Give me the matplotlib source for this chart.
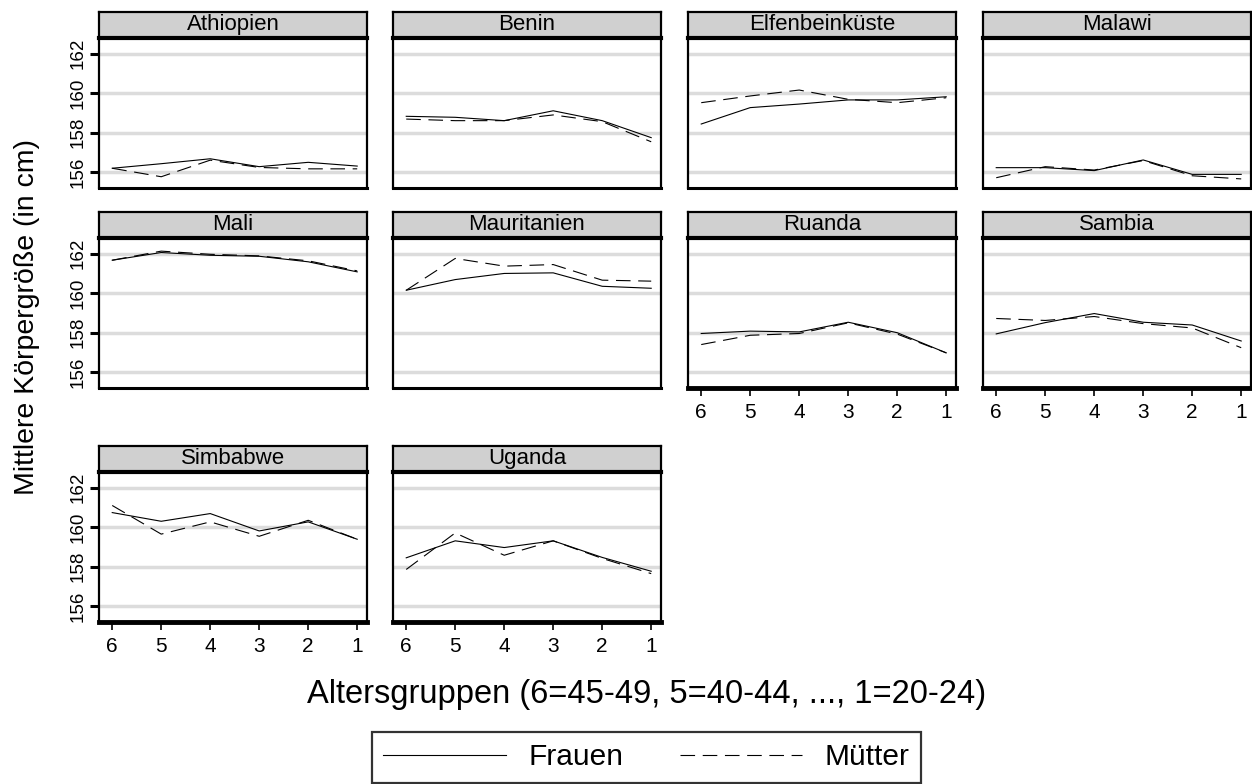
import matplotlib
matplotlib.use("Agg")
import matplotlib.pyplot as plt

plt.rcParams['font.family'] = ['Liberation Sans', 'DejaVu Sans']
plt.rcParams['lines.scale_dashes'] = False

# ---------------- data ----------------
age_groups = [6, 5, 4, 3, 2, 1]
countries = ["Athiopien", "Benin", "Elfenbeinküste", "Malawi", "Mali",
             "Mauritanien", "Ruanda", "Sambia", "Simbabwe", "Uganda"]

frauen_athiopien = [156.19, 156.42, 156.67, 156.27, 156.49, 156.30]
muetter_athiopien = [156.19, 155.76, 156.60, 156.23, 156.16, 156.16]
frauen_benin = [158.82, 158.77, 158.60, 159.10, 158.60, 157.74]
muetter_benin = [158.68, 158.60, 158.60, 158.89, 158.55, 157.53]
frauen_elfenbein = [158.43, 159.26, 159.44, 159.65, 159.65, 159.81]
muetter_elfenbein = [159.51, 159.85, 160.15, 159.68, 159.51, 159.76]
frauen_malawi = [156.22, 156.22, 156.07, 156.61, 155.88, 155.88]
muetter_malawi = [155.71, 156.27, 156.10, 156.58, 155.81, 155.65]
frauen_mali = [161.66, 162.05, 161.91, 161.86, 161.58, 161.07]
muetter_mali = [161.66, 162.12, 161.96, 161.88, 161.63, 161.12]
frauen_mauritanien = [160.14, 160.68, 160.99, 161.02, 160.34, 160.24]
muetter_mauritanien = [160.14, 161.75, 161.36, 161.44, 160.65, 160.60]
frauen_ruanda = [157.95, 158.07, 158.03, 158.52, 157.99, 156.97]
muetter_ruanda = [157.39, 157.86, 157.95, 158.49, 157.92, 156.97]
frauen_sambia = [157.93, 158.50, 158.96, 158.52, 158.38, 157.57]
muetter_sambia = [158.71, 158.61, 158.81, 158.45, 158.23, 157.23]
frauen_simbabwe = [160.73, 160.29, 160.68, 159.80, 160.26, 159.38]
muetter_simbabwe = [161.09, 159.64, 160.26, 159.53, 160.34, 159.38]
frauen_uganda = [158.44, 159.30, 158.96, 159.30, 158.46, 157.76]
muetter_uganda = [157.85, 159.70, 158.57, 159.30, 158.41, 157.64]

frauen_all = [frauen_athiopien, frauen_benin, frauen_elfenbein, frauen_malawi,
              frauen_mali, frauen_mauritanien, frauen_ruanda, frauen_sambia,
              frauen_simbabwe, frauen_uganda]
muetter_all = [muetter_athiopien, muetter_benin, muetter_elfenbein, muetter_malawi,
               muetter_mali, muetter_mauritanien, muetter_ruanda, muetter_sambia,
               muetter_simbabwe, muetter_uganda]

y_ticks = [156, 158, 160, 162]
x_tick_panels = ["Ruanda", "Sambia", "Simbabwe", "Uganda"]
series_labels = ["Frauen", "Mütter"]
x_label = "Altersgruppen (6=45-49, 5=40-44, ..., 1=20-24)"
y_label = "Mittlere Körpergröße (in cm)"

# ---------------- layout ----------------
W, H = 1252, 784
fig = plt.figure(figsize=(W / 100, H / 100), dpi=100)

col_left = [99, 393, 688, 983]
col_w = 268
plot_bottom = [188, 388, 622]
plot_h = 150
head_h = 26


def add_ax(x0, y0, x1, y1):
    return fig.add_axes([x0 / W, 1 - y1 / H, (x1 - x0) / W, (y1 - y0) / H])


handles = None
for i, name in enumerate(countries):
    r, c = divmod(i, 4)
    x0 = col_left[c]
    x1 = x0 + col_w
    yb = plot_bottom[r]
    yt = yb - plot_h
    # header strip
    hax = add_ax(x0, yt - head_h, x1, yt)
    hax.set_facecolor('#d0d0d0')
    hax.set_xticks([])
    hax.set_yticks([])
    for s in hax.spines.values():
        s.set_linewidth(1.6)
        s.set_color('black')
    hax.text(0.5, 0.52, name, ha='center', va='center', fontsize=16,
             transform=hax.transAxes)

    ax = add_ax(x0, yt, x1, yb)
    ax.set_xlim(6.27, 0.8)
    ax.set_ylim(155.19, 162.785)
    ax.set_yticks(y_ticks)
    ax.set_xticks(age_groups)
    ax.grid(axis='y', color='#dcdcdc', linewidth=2.5)
    ax.set_axisbelow(True)
    for s in ax.spines.values():
        s.set_linewidth(1.6)
        s.set_color('black')
    ax.spines['top'].set_linewidth(3.0)

    l1, = ax.plot(age_groups, frauen_all[i], color='black', linewidth=0.8,
                  label=series_labels[0])
    l2, = ax.plot(age_groups, muetter_all[i], color='black', linewidth=0.8,
                  dashes=(10.5, 5.5), label=series_labels[1])
    if handles is None:
        handles = [l1, l2]

    if c == 0:
        ax.tick_params(axis='y', length=6.5, width=2.2, labelsize=13.5,
                       labelrotation=90, pad=2.5)
        for lab in ax.get_yticklabels():
            lab.set_va('center')
    else:
        ax.tick_params(axis='y', left=False, labelleft=False)

    if name in x_tick_panels:
        ax.tick_params(axis='x', length=6, width=1.2, labelsize=15, pad=5)
        ax.spines['bottom'].set_linewidth(3.5)
    else:
        ax.tick_params(axis='x', bottom=False, labelbottom=False)
        ax.spines['bottom'].set_linewidth(2.2)

fig.text(647 / W, 1 - 695 / H, x_label, ha='center', va='center', fontsize=23.5)
fig.text(27 / W, 1 - 317 / H, y_label, ha='center', va='center', fontsize=20.5,
         rotation=90)

leg = fig.legend(handles, series_labels, loc='upper left',
                 bbox_to_anchor=(372 / W, 1 - 732 / H), ncol=2, fontsize=21.5,
                 frameon=True, fancybox=False, borderaxespad=0,
                 handlelength=4.1, handletextpad=0.75, columnspacing=1.9,
                 borderpad=0.38)
leg.get_frame().set_edgecolor('black')
leg.get_frame().set_linewidth(1.6)

fig.savefig('out.png', dpi=100)
